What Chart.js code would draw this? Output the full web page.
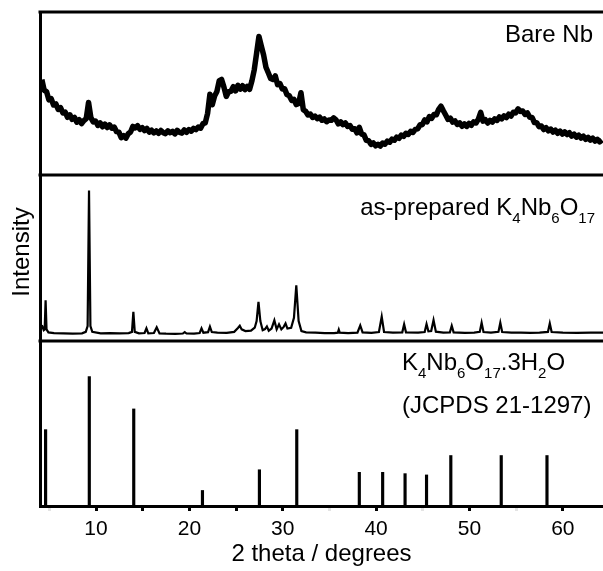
<!DOCTYPE html>
<html>
<head>
<meta charset="utf-8">
<title>XRD patterns</title>
<script src="https://cdn.jsdelivr.net/npm/chart.js@4.4.1/dist/chart.umd.min.js"></script>
<style>
  html, body { margin: 0; padding: 0; background: #fff; }
  #xrd { display: block; }
</style>
</head>
<body>
<canvas id="xrd" width="603" height="571"></canvas>
<script>
// Bare Nb scan, one reading every 0.25 degrees starting at 4.2
const bareStart = 4.2;
const bareStep = 0.25;
const bareCounts = [
  58.5, 52.0, 51.2, 46.1, 46.8, 43.0, 43.6, 40.2, 41.3, 38.1, 38.6, 35.4, 36.9, 34.1, 35.3, 32.4, 33.9, 31.5, 33.4, 34.6, 44.5,
  35.2, 32.6, 33.1, 30.4, 31.9, 29.6, 31.2, 29.1, 30.8, 28.7, 29.4, 26.6, 26.3, 22.9, 24.1, 22.6, 25.3, 26.4, 29.8, 28.9,
  30.3, 28.0, 29.1, 27.2, 28.6, 26.3, 27.5, 25.8, 27.0, 25.6, 27.3, 26.0, 25.4, 27.1, 25.9, 26.8, 25.2, 27.4, 26.1, 25.7, 27.6, 26.2, 27.9, 26.9, 28.6, 27.8,
  29.4, 28.7, 31.5, 32.0, 37.8, 49.6, 43.1, 48.5, 51.3, 57.9, 58.6, 53.9, 48.2, 51.1, 51.4, 54.2, 51.6, 55.0, 52.7, 54.8, 52.4, 54.4, 52.6, 57.8, 64.6, 74.8,
  85.0, 79.2, 73.6, 66.1, 62.7, 59.2, 58.6, 60.8, 55.4, 56.1, 52.8, 52.9, 49.3, 48.6, 45.8, 46.4, 43.2, 43.9, 50.5, 40.1,
  39.1, 36.8, 37.4, 35.3, 36.2, 34.6, 35.5, 33.6, 34.4, 32.7, 33.8, 33.6, 35.1, 33.9, 31.4, 32.6, 30.9, 32.0, 29.8, 30.3, 28.1, 28.4, 25.8, 29.2,
  25.1, 24.6, 21.3, 21.0, 18.8, 19.7, 17.9, 18.9, 17.8, 19.6, 18.9, 20.8, 20.1, 22.0, 21.3, 23.2, 22.5, 24.5, 23.7, 25.6, 24.9, 26.8, 26.1, 28.0,
  28.3, 30.8, 30.9, 33.8, 32.6, 35.9, 34.8, 37.1, 36.9, 40.3, 42.2, 39.4, 36.8, 34.1, 34.9, 32.4, 33.2, 31.0, 32.0, 29.9, 31.4, 29.8, 31.6, 30.5,
  32.6, 31.9, 34.3, 38.4, 33.0, 33.9, 31.9, 33.5, 32.4, 34.4, 33.5, 35.6, 34.4, 36.3, 35.2, 37.3, 36.2, 38.5, 38.1, 40.6, 39.0, 39.3, 37.2, 38.1,
  35.4, 35.3, 32.2, 32.1, 29.6, 30.1, 27.9, 29.0, 27.1, 28.2, 26.3, 27.5, 25.6, 26.9, 25.1, 26.5, 24.8, 25.9, 23.9, 25.1, 23.2, 24.4, 22.6, 23.8,
  21.9, 23.1, 21.4, 22.6, 20.8, 21.9, 20.3, 21.4
];

// as-prepared K4Nb6O17 scan
const prepAngles = [
  4.2, 4.4, 4.5, 4.6, 4.7, 4.9, 5.5, 6.5, 7.5, 8.5, 8.9, 9.1, 9.25, 9.4, 9.6,
  10.5, 11.5, 12.5, 13.5, 13.85, 14.0, 14.15, 14.6, 15.2, 15.4, 15.6, 16.2, 16.5, 16.8,
  17.5, 18.5, 19.3, 19.5, 19.7, 20.5, 21.1, 21.3, 21.5, 22.0, 22.2, 22.4, 23.0, 24.0,
  24.8, 25.2, 25.4, 25.6, 26.0, 26.6, 27.0, 27.2, 27.4, 27.6, 27.85, 28.1, 28.3, 28.5,
  28.8, 29.1, 29.35, 29.6, 29.85, 30.1, 30.3, 30.5, 30.9, 31.2, 31.45, 31.7, 32.0,
  32.5, 33.5, 34.5, 35.5, 35.9, 36.0, 36.1, 37.0, 38.0, 38.3, 38.55, 39.5, 40.3, 40.6,
  40.85, 41.8, 42.8, 43.0, 43.2, 44.5, 45.2, 45.4, 45.6, 45.9, 46.15, 46.4, 47.2, 47.9,
  48.1, 48.3, 49.5, 50.5, 51.1, 51.3, 51.5, 52.3, 53.1, 53.3, 53.5, 54.5, 55.5, 56.5,
  57.5, 58.4, 58.6, 58.8, 60.0, 61.5, 63.0, 64.3
];
const prepCounts = [
  9.5, 6.5, 7.0, 24.5, 7.0, 5.2, 4.8, 4.6, 4.5, 4.6, 5.5, 9.0, 90.7, 9.0, 5.5,
  4.6, 4.8, 4.6, 4.8, 5.5, 17.6, 5.5, 4.6, 4.8, 7.6, 4.6, 4.8, 8.2, 4.6,
  4.4, 4.3, 4.5, 5.4, 4.5, 4.4, 4.8, 7.6, 5.0, 5.3, 8.6, 5.4, 5.0, 4.9,
  5.5, 7.8, 9.2, 7.0, 6.0, 6.2, 8.0, 12.0, 23.6, 12.0, 6.5, 7.2, 8.8, 6.2,
  7.5, 12.4, 7.0, 10.0, 7.0, 8.5, 10.6, 7.5, 8.0, 14.0, 33.5, 12.0, 6.0,
  5.2, 5.0, 4.8, 4.8, 5.0, 6.8, 5.0, 4.8, 5.0, 9.4, 5.2, 4.9, 5.4, 14.7,
  5.4, 5.0, 5.2, 10.0, 5.2, 5.0, 5.4, 10.2, 5.8, 6.0, 12.6, 5.6, 5.0, 5.2,
  9.2, 5.2, 4.9, 5.0, 5.5, 11.0, 5.4, 5.0, 5.5, 11.0, 5.4, 5.0, 5.0, 4.9,
  5.0, 5.5, 10.6, 5.4, 5.0, 4.9, 5.0, 5.0
];

// K4Nb6O17.3H2O reference lines (JCPDS 21-1297), relative intensity
const refAngles = [4.6, 9.28, 14.04, 21.4, 27.5, 31.5, 38.2, 40.7, 43.1, 45.4, 48.0, 53.4, 58.3];
const refIntensity = [59, 100, 75, 12, 28, 59, 26, 26, 25, 24, 39, 39, 39];

// x axis: ticks every 5 degrees, labels on the tens
const xTicks = [5, 10, 15, 20, 25, 30, 35, 40, 45, 50, 55, 60];
const xLabelled = [10, 20, 30, 40, 50, 60];
const fadedTicks = [5, 35, 45, 55];

const FONT = '"Liberation Sans", Arial, Helvetica, sans-serif';
Chart.defaults.font.family = FONT;
Chart.defaults.color = '#000';

// draws text made of normal and subscript pieces, e.g. K4Nb6O17
function drawFormula(ctx, runs, x, y, align) {
  const big = '24px ' + FONT;
  const small = '15px ' + FONT;
  let width = 0;
  runs.forEach(r => {
    ctx.font = r[1] ? small : big;
    width += ctx.measureText(r[0]).width;
  });
  let cx = align === 'right' ? x - width : x;
  runs.forEach(r => {
    ctx.font = r[1] ? small : big;
    ctx.fillText(r[0], cx, r[1] ? y + 8 : y);
    cx += ctx.measureText(r[0]).width;
  });
}

const panelFrame = {
  id: 'panelFrame',
  afterDraw(chart) {
    const {ctx, chartArea, scales} = chart;
    ctx.save();
    ctx.strokeStyle = '#000';
    ctx.lineWidth = 3;
    [scales.yTop.top, scales.yMid.top, scales.yBot.top].forEach(y => {
      ctx.beginPath();
      ctx.moveTo(chartArea.left - 1.5, y);
      ctx.lineTo(chartArea.right, y);
      ctx.stroke();
    });

    ctx.fillStyle = '#000';
    ctx.textAlign = 'left';
    ctx.textBaseline = 'alphabetic';
    drawFormula(ctx, [['Bare Nb']], chartArea.right - 10, scales.yTop.top + 30, 'right');
    drawFormula(ctx, [['as-prepared K'], ['4', 1], ['Nb'], ['6', 1], ['O'], ['17', 1]],
      chartArea.right - 8, scales.yMid.top + 40, 'right');
    drawFormula(ctx, [['K'], ['4', 1], ['Nb'], ['6', 1], ['O'], ['17', 1], ['.3H'], ['2', 1], ['O']],
      402, scales.yBot.top + 29, 'left');
    drawFormula(ctx, [['(JCPDS 21-1297)']], 402, scales.yBot.top + 72, 'left');

    // y title
    ctx.translate(28.5, 252);
    ctx.rotate(-Math.PI / 2);
    ctx.textAlign = 'center';
    ctx.font = '24px ' + FONT;
    ctx.fillText('Intensity', 0, 0);
    ctx.restore();
  }
};

const bareData = bareCounts.map((c, i) => ({x: +(bareStart + i * bareStep).toFixed(2), y: c}));
const prepData = prepAngles.map((a, i) => ({x: a, y: prepCounts[i]}));
const refData = refAngles.map((a, i) => ({x: a, y: refIntensity[i]}));

const fixWidth = s => { s.width = 40; };

new Chart(document.getElementById('xrd'), {
  type: 'line',
  data: {
    datasets: [
      {
        label: 'Bare Nb',
        data: bareData,
        yAxisID: 'yTop',
        borderColor: '#000',
        borderWidth: 5.5,
        borderJoinStyle: 'round',
        pointRadius: 0,
        tension: 0
      },
      {
        label: 'as-prepared K4Nb6O17',
        data: prepData,
        yAxisID: 'yMid',
        borderColor: '#000',
        borderWidth: 2.2,
        pointRadius: 0,
        tension: 0
      },
      {
        type: 'bar',
        label: 'JCPDS 21-1297',
        data: refData,
        yAxisID: 'yBot',
        backgroundColor: '#000',
        borderWidth: 0,
        barThickness: 2.5
      }
    ]
  },
  options: {
    responsive: false,
    animation: false,
    layout: {padding: {top: 12, left: 0, right: 0, bottom: 0}},
    plugins: {legend: {display: false}, tooltip: {enabled: false}},
    scales: {
      x: {
        type: 'linear',
        min: 4,
        max: 64.3,
        offset: false,
        afterBuildTicks: s => { s.ticks = xTicks.map(v => ({value: v})); },
        afterFit: s => { s.height = 65; s.paddingLeft = 0; s.paddingRight = 0; },
        ticks: {
          autoSkip: false,
          maxRotation: 0,
          padding: 6,
          font: {size: 21},
          callback: v => xLabelled.includes(v) ? String(v) : ''
        },
        grid: {
          drawOnChartArea: false,
          offset: false,
          tickLength: 5,
          tickWidth: 3,
          tickColor: c => (c.tick && fadedTicks.includes(c.tick.value)) ? '#e4e4e4' : '#000'
        },
        border: {width: 3, color: '#000'},
        title: {display: true, text: '2 theta / degrees', font: {size: 24}, padding: {top: 0, bottom: 2}}
      },
      yTop: {
        type: 'linear', position: 'left', stack: 'xrd', stackWeight: 163, weight: 3,
        min: 0, max: 100,
        ticks: {display: false}, grid: {display: false},
        border: {width: 3, color: '#000'},
        afterFit: fixWidth
      },
      yMid: {
        type: 'linear', position: 'left', stack: 'xrd', stackWeight: 166, weight: 2,
        min: 0, max: 100,
        ticks: {display: false}, grid: {display: false},
        border: {width: 3, color: '#000'},
        afterFit: fixWidth
      },
      yBot: {
        type: 'linear', position: 'left', stack: 'xrd', stackWeight: 165, weight: 1,
        min: 0, max: 127.5,
        ticks: {display: false}, grid: {display: false},
        border: {width: 3, color: '#000'},
        afterFit: fixWidth
      }
    }
  },
  plugins: [panelFrame]
});
</script>
</body>
</html>
